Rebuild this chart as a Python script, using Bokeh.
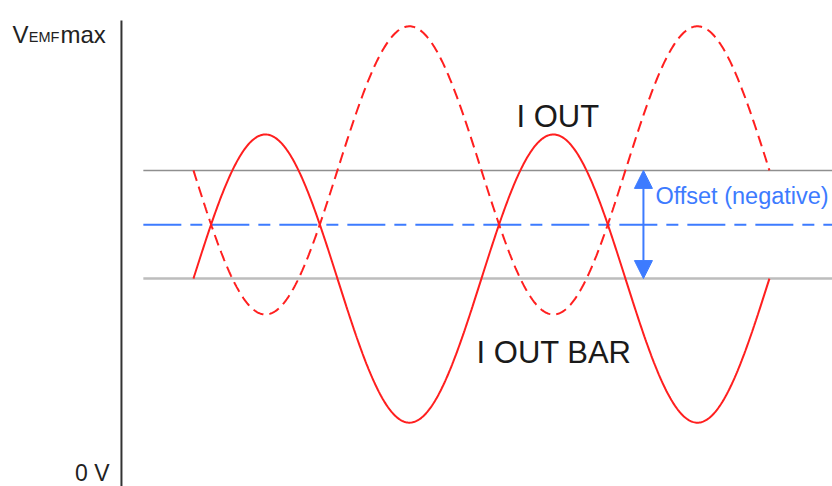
import numpy as np
from bokeh.plotting import figure
from bokeh.models import Range1d, Arrow, NormalHead
from bokeh.core.properties import value
from bokeh.embed import file_html
from bokeh.resources import INLINE

# ---- chart values (x in waveform cycles, y in tenths of VEMFmax) ----
wave_cycles = [0.0, 2.0]          # both outputs span two full periods
amplitude = 3.29                   # sine amplitude of both outputs
iout_level = 4.45                  # lower reference line = I OUT centre
ioutbar_level = 6.92               # upper reference line = I OUT BAR centre
crossing_level = 5.68              # blue dashed crossing line
offset_arrow_x = 1.5625            # where the offset arrow is drawn (cycles)
axis_tick_values = [0.0, 10.0]
axis_tick_labels = ["0 V", "VEMFmax"]
series_labels = ["I OUT", "I OUT BAR"]
offset_label = "Offset (negative)"

FONT = value("Liberation Sans")
RED = "#ff1f1f"
BLUE = "#3d7bff"

p = figure(width=832, height=486,
           x_range=Range1d(-0.670, 2.219), y_range=Range1d(-0.297, 10.799),
           x_axis_type=None, y_axis_type=None,
           toolbar_location=None, output_backend="svg",
           min_border=0, min_border_left=0, min_border_right=0,
           min_border_top=0, min_border_bottom=0,
           outline_line_color=None, background_fill_color="white")
p.grid.visible = False

# vertical axis line
p.segment(x0=[-0.25], y0=[10.34], x1=[-0.25], y1=[-0.5],
          line_color="#333333", line_width=2)

# reference lines
x_right = 2.3
p.segment(x0=[-0.174], y0=[ioutbar_level], x1=[x_right], y1=[ioutbar_level],
          line_color="#8f8f8f", line_width=1.5)
p.segment(x0=[-0.174], y0=[iout_level], x1=[x_right], y1=[iout_level],
          line_color="#bdbdbd", line_width=2.5)
p.segment(x0=[-0.174], y0=[crossing_level], x1=[x_right], y1=[crossing_level],
          line_color=BLUE, line_width=2, line_dash="38 9 12 9")

# waveforms
t = np.linspace(wave_cycles[0], wave_cycles[1], 600)
i_out = iout_level + amplitude * np.sin(2 * np.pi * t)
i_out_bar = ioutbar_level - amplitude * np.sin(2 * np.pi * t)
p.line(t, i_out, line_color=RED, line_width=2)
p.line(t, i_out_bar, line_color=RED, line_width=2, line_dash="11 6")

# offset arrow
head_a = NormalHead(size=18, fill_color=BLUE, line_color=BLUE, line_width=1)
head_b = NormalHead(size=18, fill_color=BLUE, line_color=BLUE, line_width=1)
p.add_layout(Arrow(start=head_a, end=head_b,
                   x_start=offset_arrow_x, y_start=iout_level,
                   x_end=offset_arrow_x, y_end=ioutbar_level,
                   line_color=BLUE, line_width=2))

# labels
p.text(x=[1.1215], y=[8.15], text=[series_labels[0]], text_font=FONT,
       text_font_size="31px", text_color="#1a1a1a",
       text_baseline="alphabetic", text_align="left")
p.text(x=[0.983], y=[2.76], text=[series_labels[1]], text_font=FONT,
       text_font_size="31px", text_color="#1a1a1a",
       text_baseline="alphabetic", text_align="left")
p.text(x=[1.604], y=[6.34], text=[offset_label], text_font=FONT,
       text_font_size="23.5px", text_color=BLUE,
       text_baseline="alphabetic", text_align="left")

# axis tick labels (VEMFmax with subscript)
p.text(x=[-0.2916], y=[axis_tick_values[0] + 0.02], text=[axis_tick_labels[0]],
       text_font=FONT, text_font_size="23px", text_color="#222222",
       text_baseline="alphabetic", text_align="right")
top_y = axis_tick_values[1] + 0.02
p.text(x=[-0.628], y=[top_y], text=["V"], text_font=FONT,
       text_font_size="24px", text_color="#222222",
       text_baseline="alphabetic", text_align="left")
p.text(x=[-0.572], y=[top_y - 0.06], text=["EMF"], text_font=FONT,
       text_font_size="14.5px", text_color="#222222",
       text_baseline="alphabetic", text_align="left")
p.text(x=[-0.462], y=[top_y], text=["max"], text_font=FONT,
       text_font_size="24px", text_color="#222222",
       text_baseline="alphabetic", text_align="left")

open("out.html", "w").write(file_html(p, INLINE))
